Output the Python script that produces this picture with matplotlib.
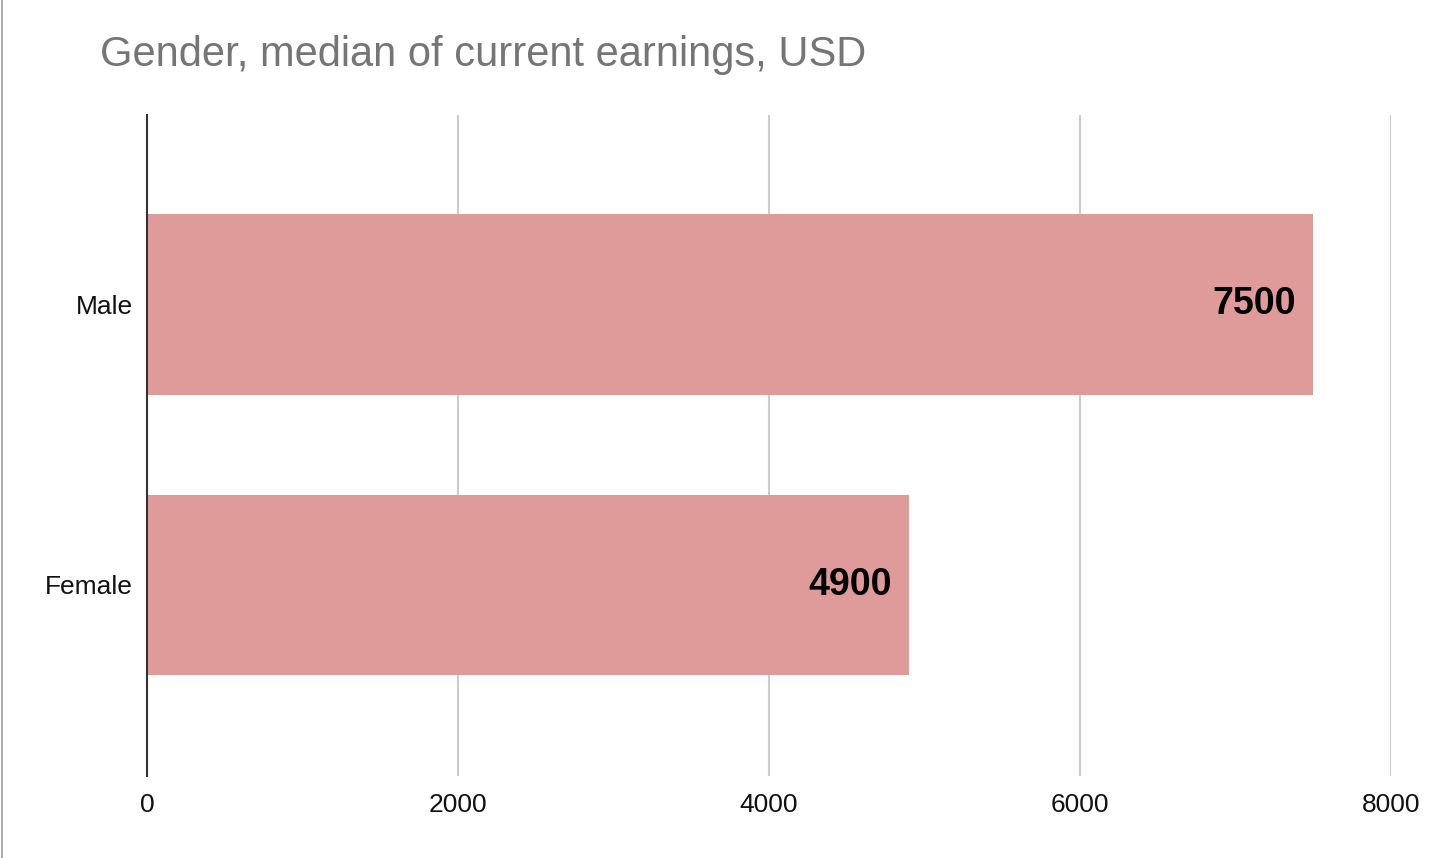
import matplotlib
matplotlib.use('Agg')
import matplotlib.pyplot as plt
from matplotlib.lines import Line2D

# data
categories = ['Female', 'Male']
earnings = [4900, 7500]
x_ticks = [0, 2000, 4000, 6000, 8000]

bar_color = '#de9b9a'

plt.rcParams['font.family'] = ['Liberation Sans', 'DejaVu Sans']

fig = plt.figure(figsize=(14.32, 8.58), dpi=100)
ax = fig.add_axes([147 / 1432, 1 - 776 / 858, (1391 - 147) / 1432, (776 - 115) / 858])

pos = list(range(len(categories)))
ax.barh(pos, earnings, height=0.644, color=bar_color, zorder=2)

for p, v in zip(pos, earnings):
    ax.annotate(str(v), xy=(v, p), xytext=(-17, 0), textcoords='offset pixels',
                ha='right', va='center', fontsize=27, fontweight='bold', color='black', zorder=3)

ax.set_xlim(0, 8000)
ax.set_ylim(-0.68, 1.673)
ax.set_xticks(x_ticks)
ax.set_xticklabels([str(t) for t in x_ticks])
ax.set_yticks(pos)
ax.set_yticklabels(categories)
ax.tick_params(axis='x', length=0, pad=12, labelsize=19, labelcolor='#111111')
ax.tick_params(axis='y', length=0, pad=10, labelsize=19, labelcolor='#111111')

ax.grid(axis='x', color='#cccccc', linewidth=1.5, zorder=0)
for s in ['top', 'right', 'bottom']:
    ax.spines[s].set_visible(False)
ax.spines['left'].set_color('#333333')
ax.spines['left'].set_linewidth(1.5)
ax.spines['left'].set_zorder(4)

fig.text(100 / 1432, 1 - 55 / 858, 'Gender, median of current earnings, USD',
         fontsize=30, color='#757575', ha='left', va='center')

# thin frame line on the left edge
fig.add_artist(Line2D([0.0012, 0.0012], [0, 1], transform=fig.transFigure, color='#9e9e9e', linewidth=1.2))

fig.savefig('out.png', dpi=100)
